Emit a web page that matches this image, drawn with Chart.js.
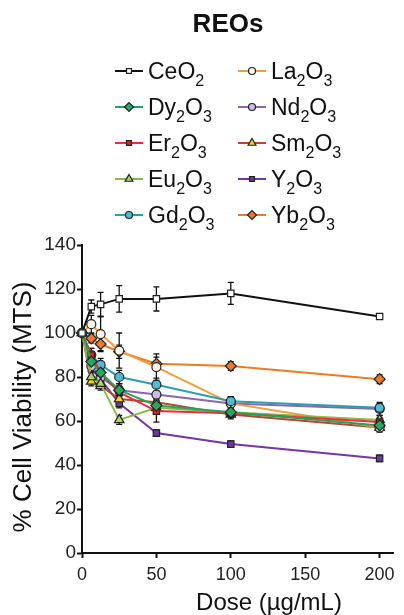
<!DOCTYPE html>
<html>
<head>
<meta charset="utf-8">
<script src="https://cdn.jsdelivr.net/npm/chart.js@4/dist/chart.umd.min.js"></script>
<style>
  html, body { margin: 0; padding: 0; background: #fff; }
  #wrap { width: 404px; height: 615px; position: relative; }
</style>
</head>
<body>
<div id="wrap"><canvas id="c" width="404" height="615"></canvas></div>
<script>
// ---- data ----
const doses = [0, 6.25, 12.5, 25, 50, 100, 200];
const seriesNames = ['CeO₂', 'Dy₂O₃', 'Er₂O₃', 'Eu₂O₃', 'Gd₂O₃', 'La₂O₃', 'Nd₂O₃', 'Sm₂O₃', 'Y₂O₃', 'Yb₂O₃'];

const ceo2  = [100, 112, 113, 115.5, 115.5, 118, 107.5];
const dy2o3 = [100, 87, 82, 74, 67, 64, 58];
const er2o3 = [100, 90, 82, 73, 64.5, 63.5, 59.5];
const eu2o3 = [100, 80, 77, 60.5, 66, 64, 60.5];
const gd2o3 = [100, 90, 85.5, 80, 76.5, 69, 66];
const la2o3 = [100, 104, 99.5, 92, 84.5, 68, 57];
const nd2o3 = [100, 85, 80, 74, 72, 68, 65.5];
const sm2o3 = [100, 78, 76, 70, 68.5, 63, 57];
const y2o3  = [100, 84, 79, 68, 54.5, 49.5, 43];
const yb2o3 = [100, 97.5, 95, 91.5, 86, 85, 79];

const ceo2Err  = [1.5, 3, 5.5, 6, 5.5, 5, 1];
const dy2o3Err = [1, 3, 3, 3, 3, 2, 2];
const er2o3Err = [1, 3, 3, 3, 5, 2, 2];
const eu2o3Err = [1, 2, 2, 2, 3, 2, 2];
const gd2o3Err = [1, 3, 3, 3, 3, 2, 2];
const la2o3Err = [1.5, 4, 8, 8, 6, 3, 1.5];
const nd2o3Err = [1, 3, 3, 3, 3, 3, 3];
const sm2o3Err = [1, 2, 2, 2, 3, 2, 2];
const y2o3Err  = [1, 2, 2, 2, 1.5, 1.5, 1.5];
const yb2o3Err = [1.5, 2, 3, 3, 3, 2, 2];

const yTicks = [0, 20, 40, 60, 80, 100, 120, 140];
const xTicks = [0, 50, 100, 150, 200];

// ---- styles ----
const seriesValues = [ceo2, dy2o3, er2o3, eu2o3, gd2o3, la2o3, nd2o3, sm2o3, y2o3, yb2o3];
const seriesErrs = [ceo2Err, dy2o3Err, er2o3Err, eu2o3Err, gd2o3Err, la2o3Err, nd2o3Err, sm2o3Err, y2o3Err, yb2o3Err];
const lineColors = ['#111111', '#1fa560', '#ee2b3b', '#8cb848', '#2a9db2', '#f49a3c', '#8868aa', '#b8462c', '#7436a6', '#ee7b22'];
const fillColors = ['#ffffff', '#27a862', '#e3202c', '#a9d46e', '#52bad2', '#fdf3e6', '#cbbde3', '#f2d221', '#6b3a9b', '#ea7a2c'];
const pStyles = ['rect', 'rectRot', 'rect', 'triangle', 'circle', 'circle', 'circle', 'triangle', 'rect', 'rectRot'];
const pRadius = [4.5, 5.5, 4.5, 5.5, 4.5, 4.5, 4.5, 5.5, 4.5, 5.5];
const FONT = '"Liberation Sans", Arial, Helvetica, sans-serif';

const datasets = seriesNames.map((name, i) => ({
  label: name,
  data: doses.map((d, j) => ({ x: d, y: seriesValues[i][j] })),
  borderColor: lineColors[i],
  backgroundColor: fillColors[i],
  borderWidth: 2,
  pointStyle: pStyles[i],
  pointRadius: pRadius[i],
  pointBorderColor: '#222222',
  pointBorderWidth: 1.2,
  pointBackgroundColor: fillColors[i],
  tension: 0,
  clip: false,
  order: i === 0 ? -1 : i
}));

const errorBars = {
  id: 'errorBars',
  beforeDatasetsDraw(chart) {
    const ctx = chart.ctx;
    const xs = chart.scales.x, ys = chart.scales.y;
    ctx.save();
    ctx.strokeStyle = '#111';
    ctx.lineWidth = 1.3;
    seriesValues.forEach((vals, i) => {
      vals.forEach((v, j) => {
        const e = seriesErrs[i][j];
        const x = xs.getPixelForValue(doses[j]);
        const y1 = ys.getPixelForValue(v + e);
        const y2 = ys.getPixelForValue(v - e);
        ctx.beginPath();
        ctx.moveTo(x, y1); ctx.lineTo(x, y2);
        ctx.moveTo(x - 3, y1); ctx.lineTo(x + 3, y1);
        ctx.moveTo(x - 3, y2); ctx.lineTo(x + 3, y2);
        ctx.stroke();
      });
    });
    ctx.restore();
  }
};

function drawSubText(ctx, text, x, y, size) {
  // draws text, rendering subscript digits smaller and lowered
  const subs = { '₀':'0','₁':'1','₂':'2','₃':'3','₄':'4','₅':'5','₆':'6','₇':'7','₈':'8','₉':'9' };
  let cx = x;
  for (const ch of text) {
    if (subs[ch]) {
      ctx.font = (size * 0.7) + 'px ' + FONT;
      ctx.fillText(subs[ch], cx, y + size * 0.3);
      cx += ctx.measureText(subs[ch]).width;
    } else {
      ctx.font = size + 'px ' + FONT;
      ctx.fillText(ch, cx, y);
      cx += ctx.measureText(ch).width;
    }
  }
}

const decor = {
  id: 'decor',
  afterDraw(chart) {
    const ctx = chart.ctx;
    ctx.save();
    ctx.fillStyle = '#111';
    // title
    ctx.font = 'bold 26px ' + FONT;
    ctx.textAlign = 'center';
    ctx.textBaseline = 'alphabetic';
    ctx.fillText('REOs', 228, 32);
    // legend
    ctx.textAlign = 'left';
    const colX = [115, 238];
    const rowY0 = 71, rowStep = 36;
    chart.data.datasets.forEach((ds, i) => {
      const col = i < 5 ? 0 : 1;
      const row = i % 5;
      const x0 = colX[col];
      const y = rowY0 + row * rowStep;
      ctx.strokeStyle = ds.borderColor;
      ctx.lineWidth = 2;
      ctx.beginPath();
      ctx.moveTo(x0, y); ctx.lineTo(x0 + 28, y);
      ctx.stroke();
      ctx.fillStyle = ds.pointBackgroundColor;
      ctx.strokeStyle = '#222';
      ctx.lineWidth = 1.2;
      Chart.helpers.drawPoint(ctx, { pointStyle: ds.pointStyle, radius: ds.pointRadius - 1, borderWidth: 1.2, rotation: 0 }, x0 + 14, y);
      ctx.fillStyle = '#111';
      drawSubText(ctx, ds.label, x0 + 33, y + 8, 23);
    });
    // axis titles
    ctx.fillStyle = '#111';
    ctx.font = '24px ' + FONT;
    ctx.textAlign = 'center';
    ctx.fillText('Dose (µg/mL)', 269, 610);
    ctx.save();
    ctx.translate(31, 407);
    ctx.rotate(-Math.PI / 2);
    ctx.font = '26px ' + FONT;
    ctx.fillText('% Cell Viability (MTS)', 0, 0);
    ctx.restore();
    ctx.restore();
  }
};

new Chart(document.getElementById('c'), {
  type: 'line',
  data: { datasets },
  options: {
    responsive: false,
    animation: false,
    layout: { padding: { top: 245, right: 11, left: 0, bottom: 0 } },
    plugins: { legend: { display: false }, title: { display: false }, tooltip: { enabled: false } },
    scales: {
      x: {
        type: 'linear',
        min: 0, max: 209,
        afterBuildTicks(scale) { scale.ticks = xTicks.map(v => ({ value: v })); },
        afterFit(scale) { scale.height = 62; },
        grid: { drawOnChartArea: false, color: 'transparent', tickColor: '#111', tickLength: 5, tickWidth: 2 },
        border: { color: '#111', width: 2 },
        ticks: { color: '#222', font: { family: FONT, size: 18 }, padding: 6, maxRotation: 0 }
      },
      y: {
        type: 'linear',
        min: 0, max: 140,
        afterBuildTicks(scale) { scale.ticks = yTicks.map(v => ({ value: v })); },
        afterFit(scale) { scale.width = 82; },
        grid: { drawOnChartArea: false, color: 'transparent', tickColor: '#111', tickLength: 5, tickWidth: 2 },
        border: { color: '#111', width: 2 },
        ticks: { color: '#222', font: { family: FONT, size: 19 }, padding: 1 }
      }
    }
  },
  plugins: [errorBars, decor]
});
</script>
</body>
</html>
